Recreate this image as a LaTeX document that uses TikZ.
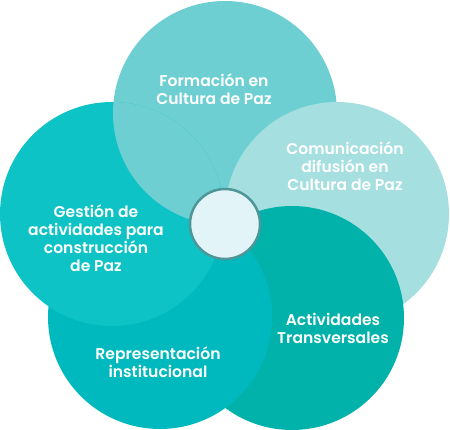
\documentclass[tikz,border=0pt]{standalone}
\usepackage{fontspec}
\setmainfont{Poppins}[BoldFont={Poppins SemiBold}]
\usepackage{tikz}
\usetikzlibrary{positioning}

\definecolor{cform}{RGB}{110,207,211}
\definecolor{ccomu}{RGB}{166,223,224}
\definecolor{cacti}{RGB}{0,178,169}
\definecolor{crepr}{RGB}{0,185,190}
\definecolor{cgest}{RGB}{13,195,198}
\definecolor{ccentro}{RGB}{227,244,248}
\definecolor{cborde}{RGB}{78,150,152}

\tikzset{
  petal/.style={circle, inner sep=0pt, minimum size=224pt},
  rotulo/.style={text=white, font=\bfseries\fontsize{15.6}{18}\selectfont, align=center}
}

\begin{document}
\begin{tikzpicture}[x=1pt,y=-1pt]
\useasboundingbox (0,0) rectangle (450,430);

    % petals, drawn one over the next
    \node [petal, fill=cform] (form) at (225,113) {};
    \node [petal, fill=ccomu] (comu) at (337,214) {};
    \node [petal, fill=cacti] (acti) at (292,318) {};
    \node [petal, fill=crepr] (repr) at (160,317) {};
    \node [petal, fill=cgest] (gest) at (112,214) {};

    % close the ring: top petal over the left one
    \begin{scope}
    \clip (gest.center) circle (112);
    \fill [cform] (form.center) circle (112);
    \end{scope}

    \node [circle, draw=cborde, line width=2.5pt, fill=ccentro, minimum size=70pt] (centro) at (225,224) {};

    \node [rotulo] (tform) at (214,89) {Formación en\\Cultura de Paz};
    \node [rotulo] (tcomu) at (345,166) {Comunicación\\difusión en\\Cultura de Paz};
    \node [rotulo] (tgest) at (96,238) {Gestión de\\actividades para\\construcción\\de Paz};
    \node [rotulo] (tacti) at (333,328) {Actividades\\Transversales};
    \node [rotulo] (trepr) at (158,362) {Representación\\institucional};

\end{tikzpicture}
\end{document}
